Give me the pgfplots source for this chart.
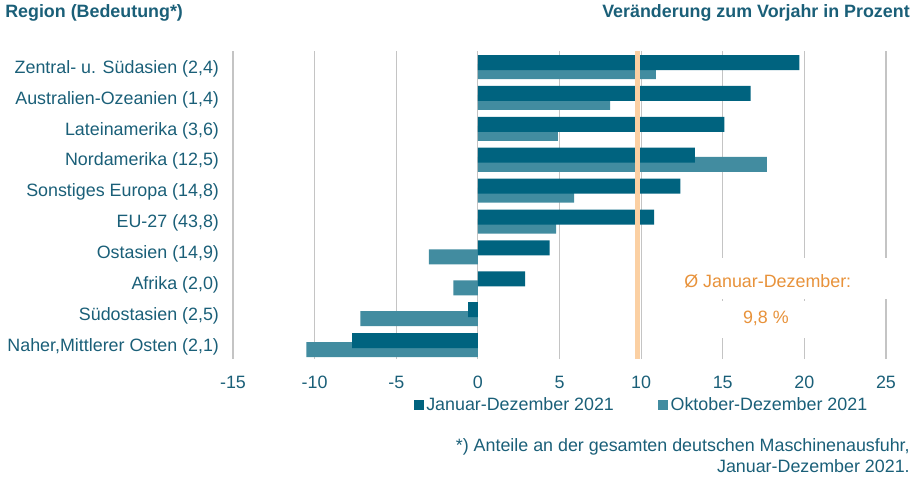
\documentclass[border=0pt]{standalone}
\usepackage{pgfplots}
\pgfplotsset{compat=1.18}
\usepackage{fontspec}
\setmainfont{Liberation Sans}

\definecolor{darkbar}{HTML}{00637F}
\definecolor{lightbar}{HTML}{428CA0}
\definecolor{txt}{HTML}{1A5F78}
\definecolor{avgline}{HTML}{FBD0A3}
\definecolor{avgtxt}{HTML}{E8923A}
\definecolor{gridc}{HTML}{C4C4C4}

\newcommand\fs{\fontsize{13.4}{15}\selectfont}

\begin{document}
\begin{tikzpicture}
\path (0,0) rectangle (686.25pt,360pt);
\begin{axis}[
    at={(174.75pt,90.75pt)}, anchor=south west,
    width=489.75pt, height=231pt, scale only axis,
    xmin=-15, xmax=25, ymin=-0.45, ymax=9.52,
    xbar, bar width=0.485,
    clip=false,
    axis line style={draw=none},
    major tick length=0pt,
    xmajorgrids, grid style={gridc, line width=0.8pt},
    xtick={-15,-10,-5,0,5,10,15,20,25},
    xticklabels={-15,-10,-5,0,5,10,15,20,25},
    xticklabel style={font=\fs, text=txt, yshift=-9pt},
    ytick={0,...,9},
    yticklabels={{Naher,Mittlerer Osten (2,1)},{Südostasien (2,5)},{Afrika (2,0)},{Ostasien (14,9)},{EU-27 (43,8)},{Sonstiges Europa (14,8)},{Nordamerika (12,5)},{Lateinamerika (3,6)},{Australien-Ozeanien (1,4)},{Zentral- u. Südasien (2,4)}},
    yticklabel style={font=\fs, text=txt, xshift=-7pt, yshift=-1.2pt},
    reverse legend,
    legend columns=2,
    legend style={at={(0.626,-0.149)}, anchor=center, draw=none, fill=none,
        font=\fs, text=txt,
        /tikz/every even column/.append style={column sep=31pt}},
    legend cell align=left,
    legend image code/.code={\fill[#1] (0pt,-3.8pt) rectangle (7.5pt,3.8pt);},
]
% Oktober-Dezember 2021 (drawn first, partly under the dark bars)
\addplot[fill=lightbar, draw=none, bar shift=-0.146] coordinates {
    (-10.5,0) (-7.2,1) (-1.5,2) (-3.0,3) (4.8,4)
    (5.9,5) (17.7,6) (4.9,7) (8.1,8) (10.9,9)
};
\addlegendentry{Oktober-Dezember 2021}
% Januar-Dezember 2021
\addplot[fill=darkbar, draw=none, bar shift=0.146] coordinates {
    (-7.7,0) (-0.6,1) (2.9,2) (4.4,3) (10.8,4)
    (12.4,5) (13.3,6) (15.1,7) (16.7,8) (19.7,9)
};
\addlegendentry{Januar-Dezember 2021}

% average line and its label
\draw[avgline, line width=3.8pt] (axis cs:9.8,-0.45) -- (axis cs:9.8,9.52);
\fill[white] (axis cs:12.1,1.49) rectangle (axis cs:25.3,2.82);
\fill[white] (axis cs:14.5,0.23) rectangle (axis cs:20.6,1.43);
\node[font=\fs, text=avgtxt] at (axis cs:17.76,2.08) {Ø Januar-Dezember:};
\node[font=\fs, text=avgtxt] at (axis cs:17.64,0.85) {9,8 \%};
\end{axis}

\begin{scope}[x=0.75pt, y=0.75pt]
\node[anchor=west, font=\fs\bfseries, text=txt, inner sep=0pt] at (5,467) {Region (Bedeutung*)};
\node[anchor=east, font=\fs\bfseries, text=txt, inner sep=0pt] at (910,467) {Veränderung zum Vorjahr in Prozent};
\node[anchor=east, font=\fs, text=txt, inner sep=0pt] at (910,33) {*) Anteile an der gesamten deutschen Maschinenausfuhr,};
\node[anchor=east, font=\fs, text=txt, inner sep=0pt] at (910,14) {Januar-Dezember 2021.};
\end{scope}
\end{tikzpicture}
\end{document}
